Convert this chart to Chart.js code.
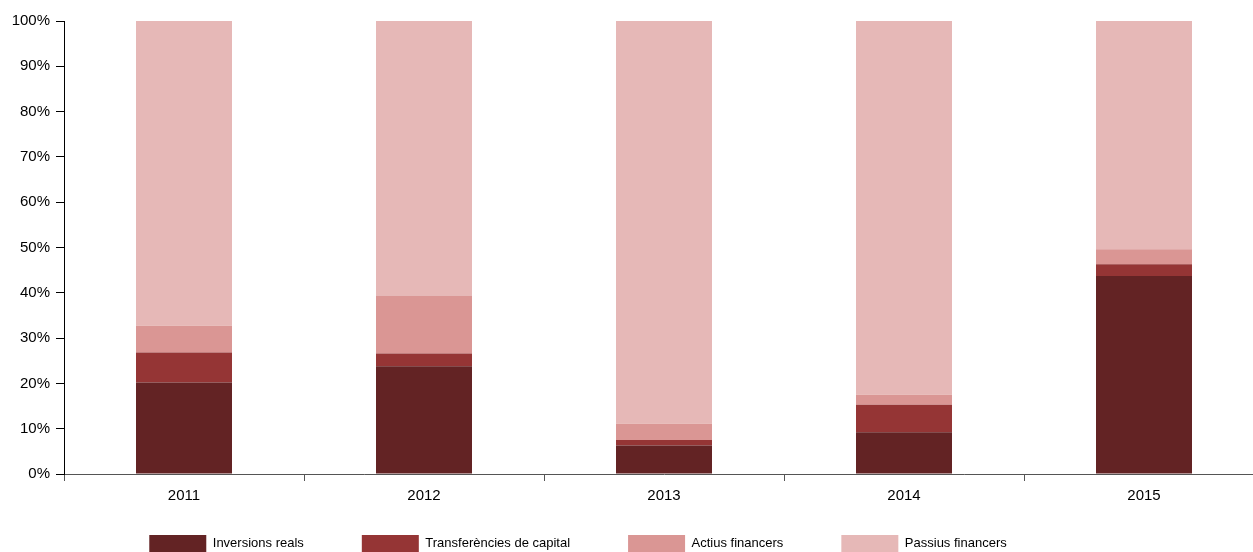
<!DOCTYPE html>
<html>
<head>
<meta charset="utf-8">
<script src="https://cdn.jsdelivr.net/npm/chart.js@4"></script>
<style>
  html, body { margin: 0; padding: 0; background: #fff; overflow: hidden; }
  #caixa { position: absolute; left: 0; top: 0; width: 1264px; height: 552px; }
</style>
</head>
<body>
<div id="caixa"><canvas id="grafic"></canvas></div>
<script>
// Anys i pes (%) de cada component
var anys = ["2011", "2012", "2013", "2014", "2015"];
var inversionsReals = [20.2, 23.8, 6.3, 9.2, 43.7];
var transferencies = [6.6, 2.8, 1.2, 6.1, 2.6];
var actiusFinancers = [5.9, 12.8, 3.6, 2.2, 3.3];
var passiusFinancers = [67.3, 60.6, 88.9, 82.5, 50.4];
var marquesY = [0, 10, 20, 30, 40, 50, 60, 70, 80, 90, 100];

var colors = ["#632324", "#953535", "#DA9694", "#E6B8B7"];
var lletra = "'Liberation Sans', Arial, sans-serif";
var separacio = 58;

// col·loca la llegenda: més a l'esquerra i just a sota de les etiquetes
var mouLlegenda = {
    id: "mouLlegenda",
    afterLayout: function (chart) {
        var l = chart.legend;
        var alt = l.bottom - l.top;
        l.left -= 54;
        l.right -= 54;
        l.top = 535 - separacio;
        l.bottom = l.top + alt;
    }
};

function cargaGrafic() {
    var serie = function (nom, dades, color) {
        return {
            label: nom,
            data: dades,
            backgroundColor: color,
            borderWidth: 0,
            barPercentage: 0.4,
            categoryPercentage: 1
        };
    };

    var config = {
        type: "bar",
        data: {
            labels: anys,
            datasets: [
                serie("Inversions reals", inversionsReals, colors[0]),
                serie("Transferències de capital", transferencies, colors[1]),
                serie("Actius financers", actiusFinancers, colors[2]),
                serie("Passius financers", passiusFinancers, colors[3])
            ]
        },
        options: {
            responsive: true,
            maintainAspectRatio: false,
            animation: false,
            layout: { padding: { top: 21, left: 0, right: 0, bottom: -41 } },
            scales: {
                x: {
                    stacked: true,
                    afterFit: function (eix) { eix.height = 34; },
                    grid: { offset: true, drawOnChartArea: false, drawTicks: true, tickLength: 7, color: "#555" },
                    border: { display: true, color: "#555", width: 1 },
                    ticks: { color: "#000", padding: 6, font: { size: 15, family: lletra } }
                },
                y: {
                    stacked: true,
                    min: 0,
                    max: 100,
                    afterBuildTicks: function (eix) {
                        eix.ticks = marquesY.map(function (v) { return { value: v }; });
                    },
                    afterFit: function (eix) { eix.width = 64; },
                    grid: { drawOnChartArea: false, drawTicks: true, tickLength: 8, color: "#000" },
                    border: { display: true, color: "#000", width: 1 },
                    ticks: {
                        color: "#000",
                        padding: 6,
                        font: { size: 15, family: lletra },
                        callback: function (v) { return v + "%"; }
                    }
                }
            },
            plugins: {
                legend: {
                    position: "bottom",
                    labels: {
                        boxWidth: 57,
                        boxHeight: 17,
                        padding: separacio,
                        color: "#000",
                        font: { size: 13, family: lletra }
                    }
                },
                tooltip: { enabled: false }
            }
        },
        plugins: [mouLlegenda]
    };
    new Chart(document.getElementById("grafic").getContext("2d"), config);
}

cargaGrafic();
</script>
</body>
</html>
